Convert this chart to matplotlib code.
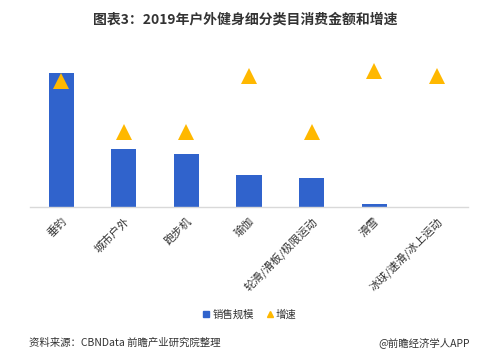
import numpy as np
import matplotlib
matplotlib.use('Agg')
import matplotlib.pyplot as plt
from matplotlib.lines import Line2D

plt.rcParams['font.family'] = ['Noto Sans CJK SC', 'DejaVu Sans']

categories = ['垂钓', '城市户外', '跑步机', '瑜伽', '轮滑/滑板/极限运动', '滑雪', '冰球/速滑/冰上运动']
sales = [100, 43.2, 39.6, 23.7, 21.5, 2.0, 0.2]
growth = [52, 31, 31, 54, 31, 56, 54]

bar_color = '#3063CC'
tri_color = '#FFB800'
txt = '#333333'

fig = plt.figure(figsize=(5, 3.61), dpi=100)
ax = fig.add_axes([0.06, 0.4266, 0.876, 0.4155])
x = np.arange(len(categories))
ax.bar(x, sales, width=0.4, color=bar_color, zorder=2)
ax.set_xlim(-0.5, len(categories) - 0.5)
ax.set_ylim(0, 150 / 1.337)

ax2 = ax.twinx()
ax2.plot(x, growth, linestyle='none', marker='^', markersize=11,
         color=tri_color, markeredgewidth=0, zorder=3)
ax2.set_ylim(0, 150 / 136 * 56)

for a in (ax, ax2):
    for s in ['top', 'right', 'left']:
        a.spines[s].set_visible(False)
    a.set_yticks([])
ax2.spines['bottom'].set_visible(False)
ax.spines['bottom'].set_color('#d9d9d9')
ax.spines['bottom'].set_linewidth(1)

ax.set_xticks(x)
ax.set_xticklabels(categories, rotation=45, ha='right', rotation_mode='anchor',
                   fontsize=8, color=txt)
ax.tick_params(axis='x', length=0, pad=6)

fig.text(0.49, 0.945, '图表3：2019年户外健身细分类目消费金额和增速', ha='center', va='center',
         fontsize=10, fontweight='bold', color=txt)

handles = [Line2D([], [], linestyle='none', marker='s', markersize=4, color=bar_color),
           Line2D([], [], linestyle='none', marker='^', markersize=4, color=tri_color)]
fig.legend(handles, ['销售规模', '增速'], loc='center', bbox_to_anchor=(0.5, 0.128),
           ncol=2, frameon=False, fontsize=7.5, handlelength=0.6, handletextpad=0.3,
           columnspacing=1.2, labelcolor=txt)

fig.text(0.058, 0.05, '资料来源：CBNData 前瞻产业研究院整理', ha='left', va='center',
         fontsize=7.5, color=txt)
fig.text(0.94, 0.05, '@前瞻经济学人APP', ha='right', va='center',
         fontsize=7.5, color=txt)

fig.savefig('out.png', dpi=100, facecolor='white')
